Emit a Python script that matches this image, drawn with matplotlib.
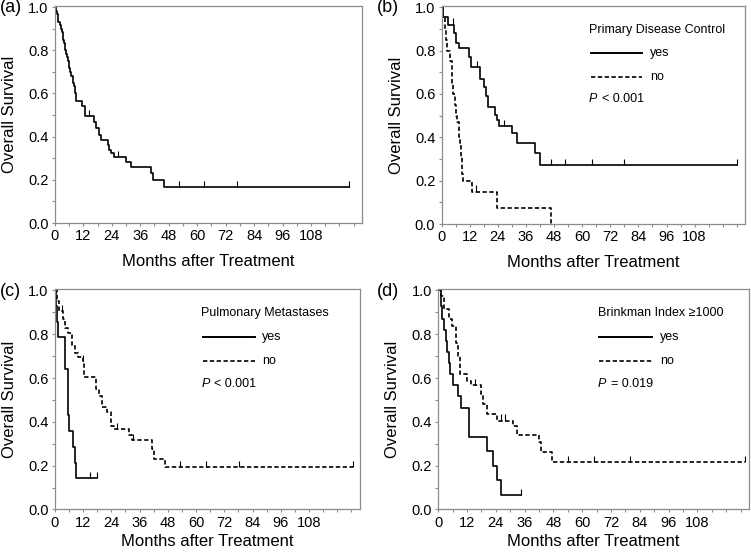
"""Kaplan-Meier overall survival curves, four panels."""

import matplotlib
matplotlib.use("Agg")
import matplotlib.pyplot as plt
import numpy as np
from matplotlib.ticker import MultipleLocator, FixedLocator


plt.rcParams["font.family"] = ["Liberation Sans", "DejaVu Sans"]

# (a) all patients
A_T = [0.3, 0.8, 1.2, 1.5, 2.0, 2.5, 2.9, 3.3, 3.6, 4.0, 4.2, 4.5, 4.9, 5.3,
       5.5, 5.8, 6.0, 6.6, 7.0, 7.5, 7.8, 8.1, 8.4, 8.6, 8.9, 9.1, 11.6, 12.6,
       16.7, 17.4, 18.5, 19.5, 22.3, 23.0, 23.7, 24.8, 30.0, 32.1, 40.4, 41.4,
       46.0]
A_S = [0.983, 0.967, 0.950, 0.933, 0.917, 0.900, 0.883, 0.867, 0.850, 0.833,
       0.817, 0.800, 0.783, 0.767, 0.750, 0.733, 0.717, 0.700, 0.683, 0.667,
       0.650, 0.633, 0.617, 0.600, 0.583, 0.567, 0.540, 0.497, 0.469, 0.438,
       0.41, 0.384, 0.36, 0.34, 0.323, 0.307, 0.284, 0.26, 0.23, 0.199, 0.165]
A_END = 124
A_CENS = [14.6, 26.5, 52.5, 63, 77, 124]

# (b) primary disease control
B_YES_T = [0.7, 2.9, 5.3, 6.2, 7.6, 11.6, 12.7, 16.6, 17.9, 19.0, 20.0, 22.6,
           23.6, 24.6, 30.2, 32.3, 39.8, 41.9]
B_YES_S = [0.953, 0.92, 0.879, 0.836, 0.81, 0.771, 0.725, 0.671, 0.633, 0.59,
           0.54, 0.502, 0.479, 0.452, 0.418, 0.375, 0.329, 0.272]
B_YES_END = 126
B_YES_CENS = [5.0, 15.0, 26.5, 46.8, 52.7, 64, 78, 126]
B_NO_T = [0.8, 1.5, 2.0, 2.5, 3.5, 4.3, 4.6, 5.0, 5.7, 6.2, 6.7, 7.4, 7.8,
          8.1, 8.5, 8.8, 9.1, 13.1, 23.6, 46.5]
B_NO_S = [0.95, 0.90, 0.85, 0.80, 0.75, 0.70, 0.65, 0.60, 0.55, 0.50, 0.47,
          0.40, 0.36, 0.31, 0.27, 0.23, 0.20, 0.15, 0.075, 0.0]
B_NO_END = 46.5
B_NO_CENS = [14.5]

# (c) pulmonary metastases
C_YES_T = [0.5, 1.0, 1.3, 4.2, 4.3, 5.6, 5.7, 5.8, 5.9, 7.9, 8.6, 9.1]
C_YES_S = [0.929, 0.857, 0.786, 0.714, 0.643, 0.571, 0.50, 0.429, 0.357,
           0.286, 0.214, 0.143]
C_YES_END = 18.1
C_YES_CENS = [14.9, 18.1]
C_NO_T = [0.9, 1.8, 3.5, 4.2, 5.6, 7.4, 8.4, 9.8, 11.8, 12.6, 17.4, 18.8,
          20.0, 22.3, 23.7, 25.1, 31.4, 32.8, 41.4, 42.3, 46.7]
C_NO_S = [0.95, 0.906, 0.868, 0.83, 0.807, 0.747, 0.716, 0.694, 0.679, 0.603,
          0.55, 0.52, 0.466, 0.444, 0.383, 0.368, 0.338, 0.315, 0.277, 0.232,
          0.194]
C_NO_END = 126.5
C_NO_CENS = [3.0, 12.0, 26.5, 33.0, 53, 64, 78.4, 126.5]

# (d) Brinkman index >= 1000
D_YES_T = [1.0, 1.7, 2.5, 3.1, 3.5, 4.5, 4.9, 6.25, 8.2, 9.3, 12.8, 20.2,
           22.9, 24.6, 26.0]
D_YES_S = [0.93, 0.87, 0.82, 0.77, 0.72, 0.67, 0.62, 0.57, 0.52, 0.465, 0.33,
           0.265, 0.2, 0.133, 0.065]
D_YES_END = 34.3
D_YES_CENS = [34.3]
D_NO_T = [1.0, 2.4, 4.5, 5.8, 7.4, 8.2, 9.0, 11.8, 13.5, 17.7, 18.75, 20.4,
          24.3, 31.25, 32.9, 42.0, 42.7, 47.5]
D_NO_S = [0.975, 0.914, 0.868, 0.838, 0.762, 0.701, 0.618, 0.588, 0.568,
          0.527, 0.482, 0.436, 0.406, 0.383, 0.338, 0.307, 0.262, 0.215]
D_NO_END = 128
D_NO_CENS = [15.2, 26.0, 28.0, 53.9, 65, 79.9, 128]

DASH = (0, (2.6, 1.5))
FRAME = "#8c8c8c"


def km(axes, times, surv, end, cens, style):
    """Draw one step curve with its censor marks."""
    t = np.r_[0.0, times, end]
    s = np.r_[1.0, surv, surv[-1]]
    axes.step(t, s, where="post", color="black", lw=1.2, linestyle=style)
    cens = np.asarray(cens)
    idx = np.searchsorted(t, cens, side="right") - 1
    level = s[idx]
    axes.vlines(cens, level, level + 0.028, color="black", lw=0.8)


def legend_block(axes, x0, title, ptext):
    """Title, line samples and p-value written inside the axes."""
    tr = axes.transAxes
    axes.text(x0, 0.89, title, transform=tr, fontsize=9, va="center")
    axes.plot([x0 + 0.005, x0 + 0.175], [0.783, 0.783], transform=tr,
              color="black", lw=1.4)
    axes.plot([x0 + 0.005, x0 + 0.175], [0.676, 0.676], transform=tr,
              color="black", lw=1.2, linestyle=DASH)
    axes.text(x0 + 0.2, 0.783, "yes", transform=tr, fontsize=9, va="center")
    axes.text(x0 + 0.2, 0.676, "no", transform=tr, fontsize=9, va="center")
    axes.text(x0, 0.572, ptext[0], transform=tr, fontsize=9, va="center",
              style="italic")
    axes.text(x0 + 0.042, 0.572, ptext[1], transform=tr, fontsize=9,
              va="center")


def style_axes(axes, xpad):
    axes.set_xlim(0, 129.5)
    axes.set_ylim(0, 1.005)
    axes.xaxis.set_major_locator(FixedLocator(np.arange(0, 121, 12)))
    axes.set_xticklabels([str(v) for v in range(0, 109, 12)] + [""])
    axes.xaxis.set_minor_locator(MultipleLocator(6))
    axes.yaxis.set_major_locator(FixedLocator([0, 0.2, 0.4, 0.6, 0.8, 1.0]))
    axes.set_yticklabels(["0.0", "0.2", "0.4", "0.6", "0.8", "1.0"])
    axes.yaxis.set_minor_locator(MultipleLocator(0.1))
    axes.tick_params(which="both", direction="out", length=2.5, width=0.8,
                     color=FRAME, labelsize=10.5, pad=2)
    for spine in axes.spines.values():
        spine.set_color(FRAME)
        spine.set_linewidth(0.9)
    axes.set_xlabel("Months after Treatment", fontsize=12, labelpad=xpad)
    axes.set_ylabel("Overall Survival", fontsize=12, labelpad=8)


def main() -> None:
    fig = plt.figure(figsize=(7.51, 5.52), dpi=100)

    ax_a = fig.add_axes([0.073, 0.596, 0.409, 0.393])
    ax_b = fig.add_axes([0.588, 0.594, 0.404, 0.395])
    ax_c = fig.add_axes([0.073, 0.077, 0.406, 0.399])
    ax_d = fig.add_axes([0.5836, 0.077, 0.4137, 0.399])

    km(ax_a, A_T, A_S, A_END, A_CENS, "-")

    km(ax_b, B_YES_T, B_YES_S, B_YES_END, B_YES_CENS, "-")
    km(ax_b, B_NO_T, B_NO_S, B_NO_END, B_NO_CENS, DASH)
    legend_block(ax_b, 0.486, "Primary Disease Control", ("P", "< 0.001"))

    km(ax_c, C_YES_T, C_YES_S, C_YES_END, C_YES_CENS, "-")
    km(ax_c, C_NO_T, C_NO_S, C_NO_END, C_NO_CENS, DASH)
    legend_block(ax_c, 0.481, "Pulmonary Metastases", ("P", "< 0.001"))

    km(ax_d, D_YES_T, D_YES_S, D_YES_END, D_YES_CENS, "-")
    km(ax_d, D_NO_T, D_NO_S, D_NO_END, D_NO_CENS, DASH)
    legend_block(ax_d, 0.513, "Brinkman Index \u22651000", ("P", "= 0.019"))

    style_axes(ax_a, 8)
    style_axes(ax_b, 8)
    style_axes(ax_c, 3)
    style_axes(ax_d, 3)

    for label, x, y in (("(a)", 0.0, 0.986), ("(b)", 0.502, 0.986),
                        ("(c)", 0.0, 0.472), ("(d)", 0.502, 0.472)):
        fig.text(x, y, label, fontsize=13, va="center", ha="left")

    fig.savefig("out.png", dpi=100)


if __name__ == "__main__":
    main()
